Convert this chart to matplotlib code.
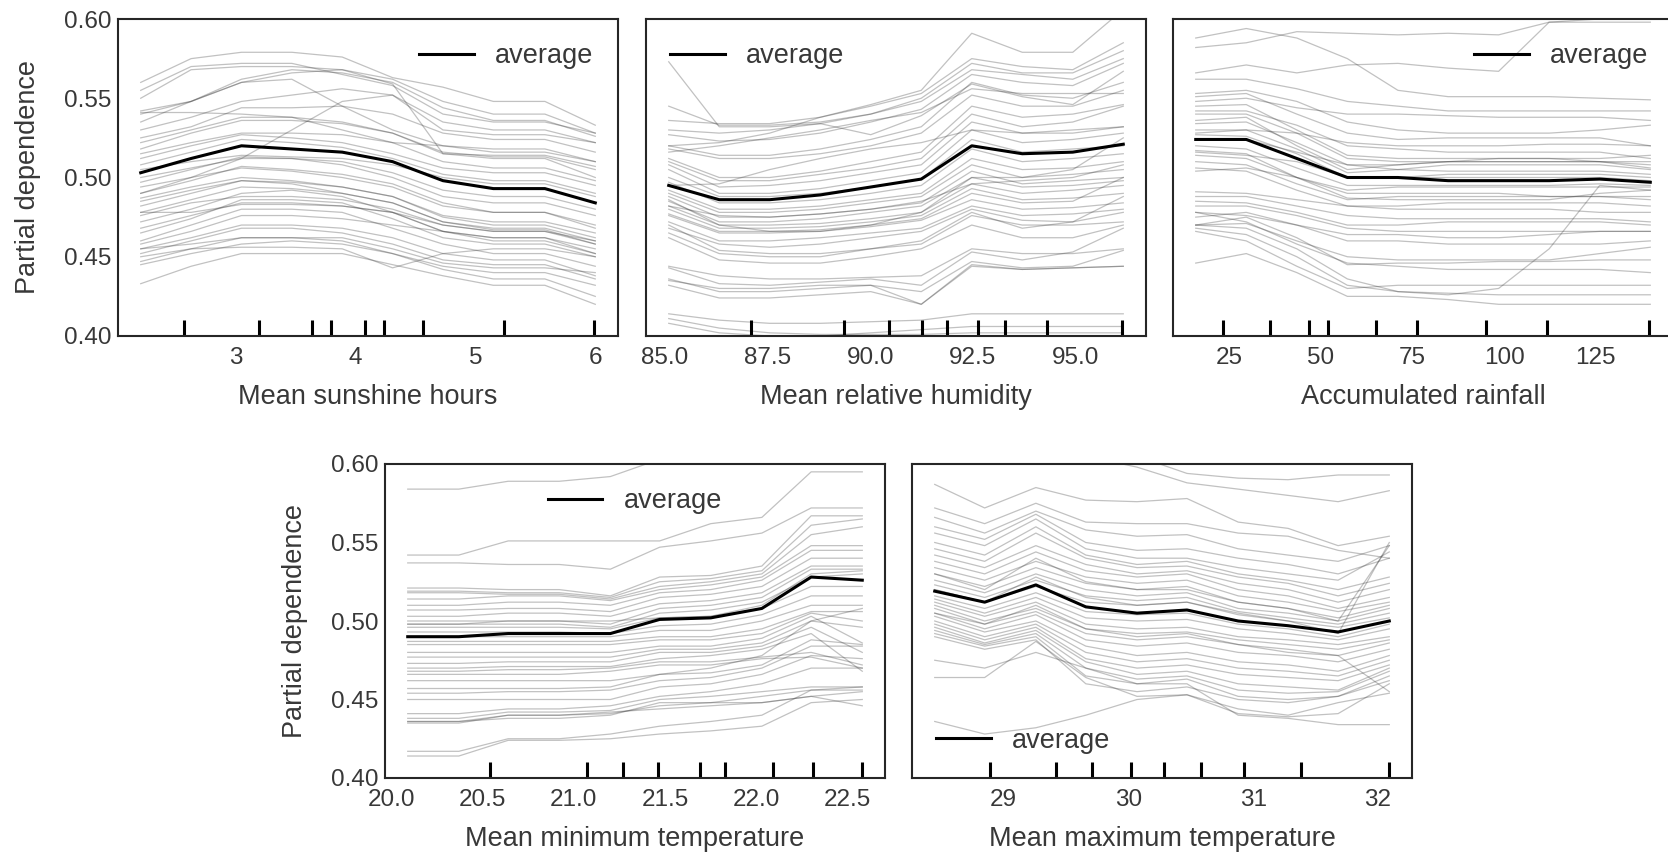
import numpy as np
import matplotlib.pyplot as plt

plt.rcParams['font.family'] = ['Liberation Sans', 'DejaVu Sans']
plt.rcParams['text.color'] = '.22'
plt.rcParams['axes.labelcolor'] = '.22'
plt.rcParams['xtick.color'] = '.22'
plt.rcParams['ytick.color'] = '.22'

# ---- data (ICE values in thousandths) ----
sun_grid = [2.21, 2.63, 3.05, 3.47, 3.89, 4.31, 4.73, 5.15, 5.58, 6.00]
sun_deciles = [2.57, 3.20, 3.64, 3.80, 4.08, 4.24, 4.56, 5.24, 5.99]
sun_avg = [503, 512, 520, 518, 516, 510, 498, 493, 493, 484]
sun_ice = [
    [560, 575, 579, 579, 576, 563, 557, 548, 548, 533],
    [550, 568, 570, 570, 568, 559, 515, 514, 514, 507],
    [555, 570, 572, 572, 565, 558, 540, 535, 535, 528],
    [542, 548, 560, 566, 568, 562, 548, 540, 540, 528],
    [541, 541, 540, 538, 530, 522, 520, 518, 518, 510],
    [535, 548, 562, 568, 566, 560, 544, 536, 536, 526],
    [530, 538, 548, 552, 556, 552, 530, 527, 527, 522],
    [525, 532, 544, 544, 545, 540, 528, 524, 524, 516],
    [522, 530, 538, 538, 535, 528, 516, 513, 513, 505],
    [518, 528, 536, 536, 534, 528, 515, 512, 512, 500],
    [515, 522, 528, 528, 527, 522, 510, 506, 506, 498],
    [512, 520, 527, 525, 522, 515, 506, 503, 503, 495],
    [508, 516, 524, 522, 519, 512, 502, 498, 498, 490],
    [505, 510, 514, 513, 512, 508, 500, 496, 496, 488],
    [500, 506, 512, 512, 510, 503, 492, 488, 488, 480],
    [497, 505, 513, 512, 508, 500, 488, 484, 484, 476],
    [494, 500, 506, 504, 500, 494, 482, 478, 478, 470],
    [490, 498, 507, 505, 502, 496, 484, 478, 478, 468],
    [487, 494, 500, 498, 494, 488, 475, 470, 470, 462],
    [485, 492, 498, 496, 490, 484, 472, 468, 468, 460],
    [482, 490, 498, 497, 494, 488, 476, 472, 472, 465],
    [478, 486, 494, 493, 490, 484, 472, 467, 467, 458],
    [476, 484, 488, 488, 486, 480, 470, 466, 466, 460],
    [478, 478, 483, 483, 482, 478, 470, 466, 466, 458],
    [472, 480, 490, 492, 488, 478, 466, 462, 462, 452],
    [468, 476, 484, 484, 482, 478, 466, 460, 460, 452],
    [465, 474, 486, 486, 484, 474, 462, 458, 458, 450],
    [460, 470, 480, 480, 478, 468, 458, 452, 452, 444],
    [458, 466, 476, 476, 474, 470, 466, 462, 462, 455],
    [455, 462, 470, 470, 468, 462, 452, 448, 448, 438],
    [452, 460, 468, 468, 465, 458, 448, 445, 445, 436],
    [455, 458, 462, 462, 462, 455, 446, 443, 443, 440],
    [447, 455, 462, 462, 460, 452, 444, 440, 440, 432],
    [450, 455, 456, 456, 455, 443, 452, 455, 455, 450],
    [433, 444, 452, 452, 452, 445, 438, 432, 432, 420],
    [445, 452, 458, 460, 458, 452, 442, 436, 436, 425],
    [490, 500, 512, 530, 548, 552, 535, 530, 530, 522],
    [540, 548, 560, 562, 545, 530, 520, 516, 516, 510],
]

hum_grid = [85.09, 86.32, 87.55, 88.78, 90.01, 91.24, 92.47, 93.70, 94.93, 96.16]
hum_deciles = [87.10, 89.37, 90.46, 91.26, 91.87, 92.62, 93.28, 94.31, 96.14]
hum_avg = [495, 486, 486, 489, 494, 499, 520, 515, 516, 521]
hum_ice = [
    [573, 532, 532, 534, 527, 539, 559, 551, 546, 567],
    [520, 522, 528, 538, 546, 555, 591, 579, 579, 606],
    [545, 533, 533, 535, 540, 550, 572, 566, 566, 580],
    [536, 534, 534, 538, 545, 553, 575, 570, 568, 585],
    [530, 528, 530, 534, 540, 548, 568, 565, 562, 575],
    [527, 523, 524, 528, 535, 543, 565, 560, 558, 572],
    [520, 514, 514, 518, 524, 532, 560, 552, 550, 560],
    [518, 512, 512, 515, 520, 528, 552, 545, 545, 555],
    [516, 520, 525, 530, 536, 541, 556, 553, 553, 553],
    [512, 500, 500, 504, 510, 516, 545, 538, 540, 546],
    [510, 498, 498, 502, 506, 512, 540, 532, 535, 545],
    [508, 494, 495, 498, 503, 508, 535, 528, 530, 532],
    [505, 490, 490, 493, 498, 503, 530, 522, 524, 528],
    [500, 488, 488, 490, 494, 499, 524, 516, 518, 520],
    [497, 484, 484, 486, 490, 495, 518, 510, 512, 515],
    [495, 496, 505, 512, 518, 522, 530, 528, 528, 532],
    [492, 480, 480, 482, 486, 490, 512, 505, 506, 510],
    [490, 478, 478, 480, 484, 488, 508, 500, 502, 505],
    [488, 475, 475, 477, 480, 484, 504, 496, 498, 500],
    [485, 472, 472, 474, 478, 482, 500, 494, 495, 498],
    [482, 470, 470, 471, 474, 478, 496, 490, 492, 495],
    [480, 468, 468, 469, 472, 476, 493, 486, 487, 490],
    [477, 466, 466, 467, 470, 474, 490, 484, 485, 500],
    [476, 465, 465, 466, 469, 473, 486, 480, 481, 484],
    [472, 460, 460, 462, 465, 468, 482, 476, 477, 480],
    [468, 458, 456, 458, 462, 466, 480, 473, 472, 488],
    [465, 452, 450, 450, 455, 458, 476, 470, 470, 472],
    [470, 454, 452, 452, 455, 460, 478, 468, 472, 478],
    [462, 448, 446, 446, 450, 455, 470, 462, 462, 470],
    [444, 438, 436, 436, 437, 438, 455, 452, 452, 455],
    [443, 433, 432, 434, 436, 432, 453, 448, 453, 468],
    [436, 428, 428, 430, 432, 428, 447, 443, 444, 454],
    [432, 424, 424, 426, 428, 420, 445, 442, 443, 444],
    [435, 430, 430, 432, 432, 420, 444, 442, 443, 444],
    [414, 410, 408, 408, 409, 410, 414, 414, 414, 414],
    [408, 402, 400, 400, 402, 404, 406, 406, 406, 406],
    [411, 405, 402, 401, 401, 401, 402, 402, 402, 402],
    [486, 470, 466, 466, 470, 478, 500, 500, 505, 525],
    [482, 476, 475, 477, 480, 485, 496, 498, 500, 508],
]

rain_grid = [15.8, 29.6, 43.4, 57.2, 71.0, 84.7, 98.5, 112.3, 126.1, 139.9]
rain_deciles = [23.2, 36.1, 46.7, 51.8, 64.9, 76.2, 95.0, 111.6, 139.6]
rain_avg = [524, 524, 512, 500, 500, 498, 498, 498, 499, 497]
rain_ice = [
    [588, 594, 588, 575, 555, 551, 551, 551, 550, 549],
    [566, 571, 566, 571, 572, 569, 567, 598, 600, 600],
    [582, 585, 592, 591, 590, 591, 590, 598, 598, 598],
    [562, 562, 556, 548, 545, 542, 542, 542, 542, 542],
    [553, 555, 548, 535, 530, 528, 528, 528, 530, 533],
    [551, 553, 540, 528, 524, 525, 525, 525, 525, 520],
    [548, 550, 544, 540, 540, 539, 538, 538, 538, 536],
    [545, 546, 530, 514, 512, 512, 512, 512, 512, 514],
    [542, 542, 533, 520, 518, 516, 516, 516, 516, 512],
    [540, 540, 528, 512, 510, 510, 510, 510, 510, 510],
    [536, 538, 520, 505, 508, 510, 510, 510, 510, 508],
    [534, 535, 522, 508, 505, 504, 504, 504, 504, 502],
    [530, 530, 518, 503, 505, 508, 508, 508, 508, 505],
    [527, 526, 515, 500, 500, 500, 500, 500, 500, 498],
    [520, 518, 506, 495, 495, 495, 495, 495, 496, 495],
    [517, 515, 500, 492, 494, 494, 494, 494, 494, 494],
    [514, 512, 500, 487, 486, 486, 486, 486, 490, 492],
    [510, 508, 496, 486, 488, 488, 488, 488, 488, 486],
    [506, 504, 492, 482, 482, 484, 484, 484, 484, 482],
    [504, 506, 500, 490, 490, 490, 490, 488, 488, 488],
    [491, 490, 486, 482, 480, 480, 480, 480, 478, 478],
    [488, 488, 482, 476, 474, 474, 474, 474, 474, 472],
    [485, 484, 478, 470, 470, 472, 472, 472, 472, 470],
    [482, 482, 476, 468, 466, 466, 466, 466, 466, 466],
    [478, 476, 470, 464, 464, 462, 462, 464, 466, 466],
    [475, 478, 470, 460, 460, 458, 458, 458, 458, 460],
    [470, 471, 460, 450, 448, 448, 448, 448, 452, 456],
    [470, 468, 455, 436, 428, 426, 430, 455, 495, 492],
    [470, 475, 462, 445, 446, 446, 447, 447, 448, 448],
    [468, 464, 450, 432, 428, 427, 426, 426, 426, 426],
    [446, 452, 440, 425, 425, 423, 420, 420, 420, 420],
    [466, 460, 444, 430, 432, 432, 432, 432, 432, 432],
    [478, 472, 458, 446, 444, 442, 442, 442, 442, 440],
    [528, 530, 528, 522, 520, 520, 520, 521, 521, 520],
    [524, 524, 516, 508, 508, 510, 512, 512, 510, 506],
    [516, 514, 510, 500, 500, 502, 502, 502, 502, 500],
]

tmin_grid = [20.09, 20.37, 20.64, 20.92, 21.20, 21.47, 21.75, 22.03, 22.30, 22.58]
tmin_deciles = [20.54, 21.07, 21.27, 21.46, 21.69, 21.83, 22.09, 22.31, 22.58]
tmin_avg = [490, 490, 492, 492, 492, 501, 502, 508, 528, 526]
tmin_ice = [
    [584, 584, 589, 589, 592, 603, 612, 615, 618, 618],
    [542, 542, 551, 551, 551, 551, 562, 566, 595, 595],
    [537, 537, 536, 536, 533, 547, 551, 556, 572, 572],
    [521, 521, 520, 520, 516, 528, 529, 535, 567, 567],
    [519, 519, 518, 518, 515, 525, 527, 532, 561, 565],
    [518, 518, 517, 517, 514, 522, 525, 530, 555, 560],
    [514, 514, 516, 516, 513, 520, 523, 528, 548, 548],
    [510, 510, 512, 512, 510, 518, 520, 526, 545, 545],
    [507, 507, 508, 508, 506, 515, 517, 522, 540, 540],
    [503, 503, 505, 505, 503, 511, 513, 518, 535, 535],
    [500, 500, 500, 500, 498, 508, 510, 515, 533, 533],
    [498, 498, 498, 498, 496, 505, 507, 512, 528, 530],
    [496, 496, 496, 496, 495, 502, 503, 508, 522, 522],
    [493, 493, 493, 493, 492, 497, 498, 504, 516, 516],
    [490, 490, 490, 490, 490, 494, 494, 500, 510, 510],
    [487, 487, 487, 487, 487, 490, 490, 495, 506, 506],
    [485, 485, 485, 485, 485, 488, 488, 492, 505, 500],
    [480, 480, 480, 480, 480, 484, 484, 489, 503, 486],
    [477, 477, 477, 477, 477, 482, 482, 486, 500, 496],
    [473, 473, 474, 474, 474, 480, 480, 484, 496, 480],
    [470, 470, 471, 471, 471, 476, 478, 482, 492, 468],
    [468, 468, 469, 469, 470, 474, 474, 477, 480, 472],
    [466, 466, 466, 466, 468, 472, 472, 476, 477, 470],
    [457, 457, 457, 457, 458, 466, 467, 472, 488, 485],
    [454, 454, 455, 455, 456, 462, 464, 470, 484, 484],
    [450, 450, 450, 450, 450, 458, 460, 466, 478, 476],
    [441, 441, 444, 444, 446, 452, 455, 460, 470, 470],
    [438, 438, 442, 442, 443, 450, 452, 455, 458, 458],
    [436, 436, 440, 440, 441, 446, 448, 452, 456, 456],
    [436, 436, 438, 438, 440, 448, 448, 448, 452, 455],
    [435, 435, 440, 440, 442, 444, 446, 448, 452, 446],
    [417, 417, 425, 425, 428, 433, 436, 440, 456, 458],
    [414, 414, 424, 424, 425, 428, 430, 433, 448, 450],
    [462, 462, 462, 462, 462, 466, 470, 478, 500, 508],
    [498, 498, 500, 500, 500, 502, 503, 510, 530, 532],
]

tmax_grid = [28.45, 28.85, 29.26, 29.66, 30.07, 30.47, 30.88, 31.28, 31.68, 32.09]
tmax_deciles = [28.89, 29.42, 29.71, 30.02, 30.29, 30.58, 30.93, 31.38, 32.09]
tmax_avg = [519, 512, 523, 509, 505, 507, 500, 497, 493, 500]
tmax_ice = [
    [587, 572, 585, 577, 576, 578, 563, 559, 548, 554],
    [622, 618, 626, 612, 605, 594, 591, 590, 593, 593],
    [612, 610, 618, 605, 598, 588, 584, 580, 576, 583],
    [572, 562, 575, 563, 562, 562, 556, 554, 545, 540],
    [566, 556, 570, 558, 554, 555, 546, 542, 538, 548],
    [560, 552, 568, 550, 545, 546, 540, 536, 530, 540],
    [556, 548, 565, 546, 540, 540, 534, 530, 526, 544],
    [550, 542, 560, 542, 536, 538, 530, 526, 520, 528],
    [546, 538, 556, 540, 534, 535, 528, 524, 516, 524],
    [542, 534, 548, 536, 530, 532, 524, 520, 512, 520],
    [538, 530, 544, 532, 528, 530, 520, 516, 508, 515],
    [534, 526, 538, 528, 524, 526, 516, 512, 506, 512],
    [530, 522, 534, 524, 520, 522, 512, 508, 502, 510],
    [526, 518, 530, 520, 516, 518, 508, 505, 500, 508],
    [523, 515, 526, 516, 513, 515, 506, 502, 498, 505],
    [520, 512, 522, 512, 510, 512, 504, 500, 496, 502],
    [516, 508, 518, 506, 504, 505, 498, 495, 490, 498],
    [514, 505, 515, 502, 500, 501, 495, 492, 488, 495],
    [512, 503, 512, 498, 495, 496, 490, 488, 485, 490],
    [510, 500, 508, 495, 492, 493, 488, 485, 482, 488],
    [508, 498, 506, 492, 488, 490, 485, 482, 478, 486],
    [505, 495, 504, 488, 484, 486, 480, 478, 474, 482],
    [503, 493, 500, 484, 478, 480, 474, 472, 468, 478],
    [500, 490, 498, 480, 474, 476, 470, 468, 465, 475],
    [498, 488, 496, 476, 470, 472, 466, 464, 462, 472],
    [496, 486, 494, 474, 466, 468, 460, 458, 456, 470],
    [494, 485, 492, 470, 463, 465, 456, 454, 455, 468],
    [492, 484, 490, 465, 460, 463, 452, 450, 452, 465],
    [490, 482, 488, 460, 455, 458, 450, 448, 452, 462],
    [464, 464, 487, 464, 452, 453, 441, 439, 441, 460],
    [436, 428, 432, 440, 450, 453, 444, 440, 448, 454],
    [475, 470, 480, 470, 460, 460, 440, 438, 434, 434],
    [530, 520, 540, 525, 520, 520, 512, 508, 500, 548],
    [520, 512, 528, 515, 510, 512, 505, 500, 492, 550],
    [505, 498, 510, 495, 490, 492, 485, 480, 478, 455],
]

y_ticks = [0.40, 0.45, 0.50, 0.55, 0.60]


def draw_panel(ax, grid, ice, avg, deciles, xlabel, xticks, xticklabels, loc):
    ice = np.array(ice) / 1000
    avg = np.array(avg) / 1000
    ax.plot(grid, ice.T, color='0.2', alpha=0.3, lw=0.9)
    ax.plot(grid, avg, color='k', lw=2.2, label='average')
    trans = ax.get_xaxis_transform()
    ax.vlines(deciles, 0, 0.05, transform=trans, color='k', lw=2.2)
    ax.set_ylim(0.40, 0.60)
    ax.set_xticks(xticks)
    ax.set_xticklabels(xticklabels)
    ax.set_xlabel(xlabel, fontsize=19.5, labelpad=11)
    ax.set_yticks(y_ticks)
    ax.set_yticklabels([])
    ax.tick_params(axis='x', length=0, labelsize=17.5, pad=8)
    ax.tick_params(axis='y', length=0, labelsize=17.5, pad=5)
    for s in ax.spines.values():
        s.set_color('.15')
        s.set_linewidth(1.5)
    ax.legend(loc=loc, frameon=False, fontsize=19.5, handlelength=2.0)


fig = plt.figure(figsize=(16.68, 8.58), dpi=100)
W, H = 1668, 858


def add_axes(left, top, right, bottom):
    return fig.add_axes([left / W, 1 - bottom / H, (right - left) / W, (bottom - top) / H])


ax1 = add_axes(118, 19, 618, 336)
ax2 = add_axes(646, 19, 1146, 336)
ax3 = add_axes(1173, 19, 1673, 336)
ax4 = add_axes(385, 464, 885, 778)
ax5 = add_axes(912, 464, 1412, 778)

draw_panel(ax1, sun_grid, sun_ice, sun_avg, sun_deciles, 'Mean sunshine hours',
           [3, 4, 5, 6], ['3', '4', '5', '6'], 'upper right')
draw_panel(ax2, hum_grid, hum_ice, hum_avg, hum_deciles, 'Mean relative humidity',
           [85.0, 87.5, 90.0, 92.5, 95.0], ['85.0', '87.5', '90.0', '92.5', '95.0'], 'upper left')
draw_panel(ax3, rain_grid, rain_ice, rain_avg, rain_deciles, 'Accumulated rainfall',
           [25, 50, 75, 100, 125], ['25', '50', '75', '100', '125'], 'upper right')
draw_panel(ax4, tmin_grid, tmin_ice, tmin_avg, tmin_deciles, 'Mean minimum temperature',
           [20.0, 20.5, 21.0, 21.5, 22.0, 22.5], ['20.0', '20.5', '21.0', '21.5', '22.0', '22.5'],
           'upper center')
draw_panel(ax5, tmax_grid, tmax_ice, tmax_avg, tmax_deciles, 'Mean maximum temperature',
           [29, 30, 31, 32], ['29', '30', '31', '32'], 'lower left')

for ax in (ax1, ax4):
    ax.set_yticklabels(['0.40', '0.45', '0.50', '0.55', '0.60'])
    ax.set_ylabel('Partial dependence', fontsize=19.5, labelpad=16)

fig.savefig('out.png', dpi=100)
